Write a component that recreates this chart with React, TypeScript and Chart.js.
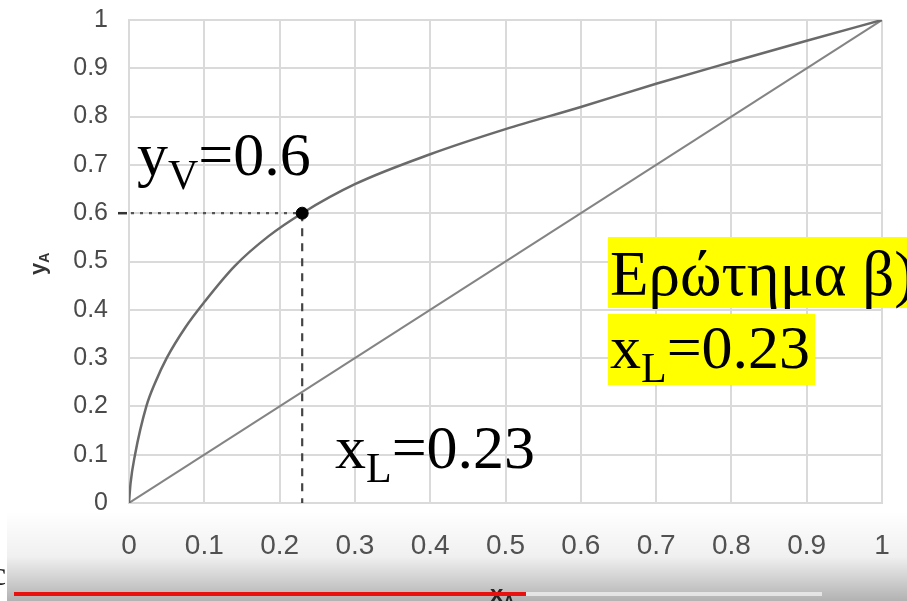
import { useEffect, useRef } from "react";
import { Chart, registerables } from "chart.js";

Chart.register(...registerables);

// Equilibrium curve y_A(x_A) for the binary mixture
const equilibriumX = [0, 0.002, 0.008, 0.023, 0.035, 0.05, 0.075, 0.1, 0.14, 0.185, 0.23, 0.3, 0.4, 0.5, 0.6, 0.7, 0.8, 0.9, 1];
const equilibriumY = [0, 0.04, 0.1, 0.2, 0.25, 0.3, 0.364, 0.416, 0.49, 0.552, 0.6, 0.66, 0.722, 0.774, 0.82, 0.868, 0.913, 0.957, 1];

// y = x reference line
const diagonalX = [0, 1];
const diagonalY = [0, 1];

// Operating point
const xL = 0.23;
const yV = 0.6;

const tickLabels = ["0", "0.1", "0.2", "0.3", "0.4", "0.5", "0.6", "0.7", "0.8", "0.9", "1"];

const SERIF = "'Liberation Serif', 'Times New Roman', serif";
const SANS = "'Liberation Sans', Arial, sans-serif";

type Piece = [string, number, number];

function drawRich(ctx: CanvasRenderingContext2D, x: number, baseline: number, pieces: Piece[], family: string, weight = "normal") {
  let cx = x;
  for (const [t, size, dy] of pieces) {
    ctx.font = `${weight} ${size}px ${family}`;
    ctx.fillText(t, cx, baseline + dy);
    cx += ctx.measureText(t).width;
  }
  return cx;
}

const guidePlugin = {
  id: "guides",
  beforeDatasetsDraw(chart: any) {
    const { ctx, chartArea, scales } = chart;
    const px = scales.x.getPixelForValue(xL);
    const py = scales.y.getPixelForValue(yV);
    ctx.save();
    // short mark on the y axis at y_V
    ctx.strokeStyle = "#333";
    ctx.lineWidth = 2.5;
    ctx.beginPath();
    ctx.moveTo(chartArea.left - 11, py);
    ctx.lineTo(chartArea.left - 2, py);
    ctx.stroke();
    // dotted line to the point
    ctx.strokeStyle = "#555";
    ctx.lineWidth = 2.2;
    ctx.setLineDash([3, 6]);
    ctx.beginPath();
    ctx.moveTo(chartArea.left + 2, py);
    ctx.lineTo(px, py);
    ctx.stroke();
    // dashed drop to the x axis
    ctx.strokeStyle = "#444";
    ctx.lineWidth = 2.2;
    ctx.setLineDash([8, 7]);
    ctx.beginPath();
    ctx.moveTo(px, py);
    ctx.lineTo(px, chartArea.bottom);
    ctx.stroke();
    ctx.restore();
  },
  afterDraw(chart: any) {
    const { ctx } = chart;
    ctx.save();
    ctx.fillStyle = "#000";
    ctx.textBaseline = "alphabetic";
    ctx.textAlign = "left";

    // y_V = 0.6
    drawRich(ctx, 137, 175, [["y", 62, 0], ["V", 42, 14], ["=0.6", 62, 0]], SERIF);
    // x_L = 0.23
    drawRich(ctx, 335, 468, [["x", 62, 0], ["L", 42, 14], ["=0.23", 62, 0]], SERIF);

    // highlighted answer
    ctx.fillStyle = "#ffff00";
    ctx.fillRect(608, 237, 320, 71);
    ctx.fillRect(608, 314, 207, 71);
    ctx.fillStyle = "#000";
    drawRich(ctx, 610, 295, [["Ερώτημα β)", 63, 0]], SERIF);
    drawRich(ctx, 610, 368, [["x", 62, 0], ["L", 42, 14], ["=0.23", 62, 0]], SERIF);

    // axis titles
    ctx.fillStyle = "#333";
    ctx.save();
    ctx.translate(45, 275);
    ctx.rotate(-Math.PI / 2);
    drawRich(ctx, 0, 0, [["y", 22, 0], ["A", 14, 4]], SANS, "bold");
    ctx.restore();
    drawRich(ctx, 490, 602, [["x", 24, 0], ["A", 16, 5]], SANS, "bold");
    ctx.restore();
  },
};

export default function App() {
  const canvasRef = useRef<HTMLCanvasElement | null>(null);

  useEffect(() => {
    const canvas = canvasRef.current;
    if (!canvas) return;
    const curve = equilibriumX.map((x, i) => ({ x, y: equilibriumY[i] }));
    const diagonal = diagonalX.map((x, i) => ({ x, y: diagonalY[i] }));

    const chart = new Chart(canvas, {
      type: "scatter",
      data: {
        datasets: [
          {
            label: "point",
            data: [{ x: xL, y: yV }],
            pointRadius: 6,
            pointBackgroundColor: "#000",
            pointBorderColor: "#000",
            showLine: false,
          },
          {
            label: "equilibrium",
            data: curve,
            showLine: true,
            borderColor: "#6a6a6a",
            borderWidth: 2.5,
            pointRadius: 0,
            cubicInterpolationMode: "monotone",
            fill: false,
          },
          {
            label: "diagonal",
            data: diagonal,
            showLine: true,
            borderColor: "#848484",
            borderWidth: 2,
            pointRadius: 0,
            fill: false,
          },
        ],
      },
      options: {
        animation: false,
        responsive: false,
        devicePixelRatio: 1,
        layout: { padding: { left: 0, right: 25, top: 20, bottom: 0 } },
        plugins: {
          legend: { display: false },
          tooltip: { enabled: false },
        },
        scales: {
          x: {
            type: "linear",
            min: 0,
            max: 1,
            afterFit: (axis: any) => {
              axis.height = 98;
            },
            ticks: {
              stepSize: 0.1,
              padding: 0,
              color: "#555",
              font: { family: SANS, size: 28 },
              maxRotation: 0,
              callback: (v: any) => tickLabels[Math.round(Number(v) * 10)],
            },
            grid: { color: "#dadada", lineWidth: 2, drawTicks: true, tickLength: 26, tickColor: "rgba(0,0,0,0)" },
            border: { color: "#dadada", width: 2 },
          },
          y: {
            type: "linear",
            min: 0,
            max: 1,
            afterFit: (axis: any) => {
              axis.width = 129;
            },
            ticks: {
              stepSize: 0.1,
              padding: 0,
              color: "#4a4a4a",
              font: { family: SANS, size: 25 },
              callback: (v: any) => tickLabels[Math.round(Number(v) * 10)],
            },
            grid: { color: "#dadada", lineWidth: 2, drawTicks: true, tickLength: 21, tickColor: "rgba(0,0,0,0)" },
            border: { color: "#dadada", width: 2 },
          },
        },
      },
      plugins: [guidePlugin],
    } as any);

    return () => chart.destroy();
  }, []);

  return (
    <div style={{ position: "absolute", left: 0, top: 0, width: 907, height: 601, background: "#fff", overflow: "hidden" }}>
      <canvas ref={canvasRef} width={907} height={601} style={{ display: "block", width: 907, height: 601 }} />
      <div
        style={{
          position: "absolute",
          left: 7,
          top: 512,
          width: 900,
          height: 89,
          background: "linear-gradient(to bottom, rgba(0,0,0,0), rgba(0,0,0,0.06) 50%, rgba(0,0,0,0.3))",
        }}
      />
      <div style={{ position: "absolute", left: 14, top: 592, width: 512, height: 4, background: "#e8110f" }} />
      <div style={{ position: "absolute", left: 526, top: 592, width: 296, height: 4, background: "rgba(255,255,255,0.6)" }} />
      <div style={{ position: "absolute", left: -9, top: 555, fontFamily: SERIF, fontSize: 34, color: "#222" }}>c</div>
    </div>
  );
}
